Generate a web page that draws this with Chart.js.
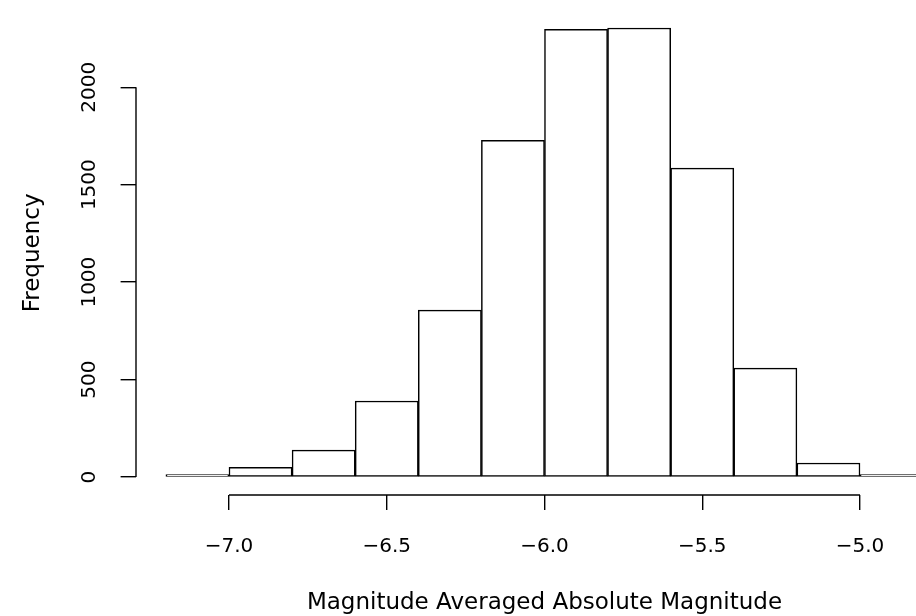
<!DOCTYPE html>
<html>
<head>
<meta charset="utf-8">
<script src="https://cdn.jsdelivr.net/npm/chart.js@4.4.1/dist/chart.umd.min.js"></script>
<style>
  html, body { margin: 0; padding: 0; background: #fff; }
  canvas { display: block; }
</style>
</head>
<body>
<canvas id="hist" width="916" height="616"></canvas>
<script>
// histogram bins (midpoints, width 0.2) and counts
const binMids = [-7.1, -6.9, -6.7, -6.5, -6.3, -6.1, -5.9, -5.7, -5.5, -5.3, -5.1, -4.9];
const counts = [4, 50, 138, 390, 856, 1728, 2297, 2304, 1585, 559, 72, 3];
const xTicks = [-7.0, -6.5, -6.0, -5.5, -5.0];
const yTicks = [0, 500, 1000, 1500, 2000];
const xTitle = 'Magnitude Averaged Absolute Magnitude';
const yTitle = 'Frequency';

const FONT = '"DejaVu Sans", sans-serif';

const rAxes = {
    id: 'rAxes',
    afterDraw(chart) {
        const ctx = chart.ctx;
        const xs = chart.scales.x, ys = chart.scales.y;
        const area = chart.chartArea;
        ctx.save();
        ctx.strokeStyle = '#000';
        ctx.lineWidth = 1.4;
        // axis lines only between first and last tick, like base R
        const yl = Math.round(area.left);
        ctx.beginPath();
        ctx.moveTo(yl, ys.getPixelForValue(yTicks[0]));
        ctx.lineTo(yl, ys.getPixelForValue(yTicks[yTicks.length - 1]));
        ctx.stroke();
        const xb = Math.round(area.bottom);
        ctx.beginPath();
        ctx.moveTo(xs.getPixelForValue(xTicks[0]), xb);
        ctx.lineTo(xs.getPixelForValue(xTicks[xTicks.length - 1]), xb);
        ctx.stroke();

        ctx.fillStyle = '#000';
        ctx.font = '20px ' + FONT;
        ctx.textAlign = 'center';
        ctx.textBaseline = 'alphabetic';
        xTicks.forEach(v => {
            ctx.fillText(v.toFixed(1).replace('-', '\u2212'), xs.getPixelForValue(v), 552);
        });
        yTicks.forEach(v => {
            ctx.save();
            ctx.translate(95, ys.getPixelForValue(v));
            ctx.rotate(-Math.PI / 2);
            ctx.fillText(String(v), 0, 0);
            ctx.restore();
        });

        ctx.font = '23px ' + FONT;
        ctx.fillText(xTitle, xs.getPixelForValue(-6.0), 609);
        ctx.save();
        ctx.translate(39, ys.getPixelForValue(1150));
        ctx.rotate(-Math.PI / 2);
        ctx.fillText(yTitle, 0, 0);
        ctx.restore();
        ctx.restore();
    }
};

new Chart(document.getElementById('hist'), {
    type: 'bar',
    data: {
        datasets: [{
            data: binMids.map((m, i) => ({ x: m, y: counts[i] })),
            backgroundColor: '#ffffff',
            borderColor: '#000000',
            borderWidth: 1.5,
            borderSkipped: false,
            minBarLength: 2.5,
            barPercentage: 1,
            categoryPercentage: 1
        }]
    },
    options: {
        responsive: false,
        animation: false,
        devicePixelRatio: 1,
        layout: { padding: { top: 10, left: 0, right: 0, bottom: 0 } },
        plugins: { legend: { display: false }, tooltip: { enabled: false } },
        scales: {
            x: {
                type: 'linear',
                offset: false,
                min: -7.296,
                max: -4.8225,
                afterBuildTicks: s => { s.ticks = xTicks.map(v => ({ value: v })); },
                afterFit: s => { s.height = 121; },
                ticks: { display: false },
                border: { display: false },
                grid: { offset: false, drawOnChartArea: false, drawTicks: true, tickLength: 15, color: '#000', lineWidth: 1.4 }
            },
            y: {
                min: -92.16,
                max: 2396.16,
                afterBuildTicks: s => { s.ticks = yTicks.map(v => ({ value: v })); },
                afterFit: s => { s.width = 135.6; },
                ticks: { display: false },
                border: { display: false },
                grid: { offset: false, drawOnChartArea: false, drawTicks: true, tickLength: 15, color: '#000', lineWidth: 1.4 }
            }
        }
    },
    plugins: [rAxes]
});
</script>
</body>
</html>
